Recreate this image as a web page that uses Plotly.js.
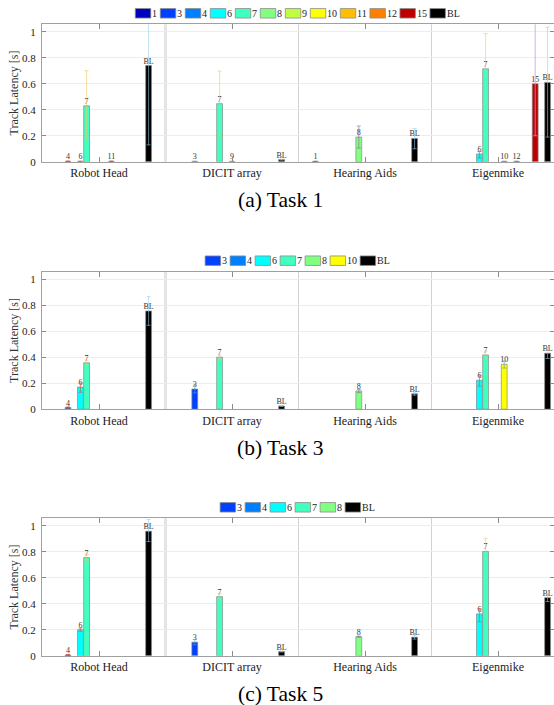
<!DOCTYPE html>
<html><head><meta charset="utf-8">
<script src="https://cdn.plot.ly/plotly-3.0.1.min.js"></script>
<style>html,body{margin:0;padding:0;background:#fff}#chart{width:554px;height:705px}</style>
</head><body><div id="chart"></div>
<script>
// ---------------- DATA ----------------
const groups = ['Robot Head', 'DICIT array', 'Hearing Aids', 'Eigenmike'];

// Task 1
const seriesT1 = ['1', '3', '4', '6', '7', '8', '9', '10', '11', '12', '15', 'BL'];
const valuesT1 = [
  [null, null, 0.003, null],
  [null, 0.003, null, null],
  [0.003, null, null, null],
  [0.003, null, null, 0.06],
  [0.43, 0.447, null, 0.715],
  [null, null, 0.19, null],
  [null, 0.003, null, null],
  [null, null, null, 0.003],
  [0.003, null, null, null],
  [null, null, null, 0.003],
  [null, null, null, 0.60],
  [0.74, 0.017, 0.18, 0.61]
];
const errUpT1 = [
  [null, null, 0.002, null],
  [null, 0.002, null, null],
  [0.003, null, null, null],
  [0.003, null, null, 0.02],
  [0.27, 0.25, null, 0.27],
  [null, null, 0.085, null],
  [null, 0.002, null, null],
  [null, null, null, 0.002],
  [0.003, null, null, null],
  [null, null, null, 0.002],
  [null, null, null, 0.60],
  [0.60, 0.004, 0.075, 0.425]
];
const errDownT1 = [
  [null, null, 0.002, null],
  [null, 0.002, null, null],
  [0.003, null, null, null],
  [0.003, null, null, 0.03],
  [0.25, 0.25, null, 0.27],
  [null, null, 0.085, null],
  [null, 0.002, null, null],
  [null, null, null, 0.002],
  [0.003, null, null, null],
  [null, null, null, 0.002],
  [null, null, null, 0.40],
  [0.61, 0.004, 0.08, 0.42]
];

// Task 3
const seriesT3 = ['3', '4', '6', '7', '8', '10', 'BL'];
const valuesT3 = [
  [null, 0.155, null, null],
  [0.013, null, null, null],
  [0.17, null, null, 0.222],
  [0.357, 0.40, null, 0.417],
  [null, null, 0.14, null],
  [null, null, null, 0.346],
  [0.755, 0.025, 0.118, 0.43]
];
const errUpT3 = [
  [null, 0.03, null, null],
  [0.004, null, null, null],
  [0.03, null, null, 0.035],
  [0.02, 0.015, null, 0.03],
  [null, null, 0.012, null],
  [null, null, null, 0.025],
  [0.11, 0.004, 0.008, 0.045]
];
const errDownT3 = [
  [null, 0.03, null, null],
  [0.004, null, null, null],
  [0.04, null, null, 0.045],
  [0.02, 0.01, null, 0.03],
  [null, null, 0.012, null],
  [null, null, null, 0.03],
  [0.11, 0.004, 0.01, 0.04]
];

// Task 5
const seriesT5 = ['3', '4', '6', '7', '8', 'BL'];
const valuesT5 = [
  [null, 0.105, null, null],
  [0.006, null, null, null],
  [0.20, null, null, 0.322],
  [0.755, 0.455, null, 0.802],
  [null, null, 0.147, null],
  [0.958, 0.033, 0.143, 0.447]
];
const errUpT5 = [
  [null, 0.02, null, null],
  [0.003, null, null, null],
  [0.012, null, null, 0.04],
  [0.025, 0.025, null, 0.10],
  [null, null, 0.004, null],
  [0.09, 0.004, 0.015, 0.03]
];
const errDownT5 = [
  [null, 0.02, null, null],
  [0.003, null, null, null],
  [0.012, null, null, 0.06],
  [0.025, 0.01, null, 0.06],
  [null, null, 0.004, null],
  [0.08, 0.004, 0.015, 0.03]
];

const captions = ['(a) Task 1', '(b) Task 3', '(c) Task 5'];
const yTitle = 'Track Latency [s]';

// ---------------- STYLE ----------------
const FONT = 'Liberation Serif, Times New Roman, serif';
const jet16 = ['#0000BF', '#0000FF', '#0040FF', '#0080FF', '#00BFFF', '#00FFFF', '#40FFBF', '#80FF80',
               '#BFFF40', '#FFFF00', '#FFBF00', '#FF8000', '#FF4000', '#FF0000', '#BF0000', '#800000'];
const errColor = {
  '1': 'rgba(150,80,170,0.6)', '3': 'rgba(80,160,220,0.6)', '4': 'rgba(220,50,50,0.75)',
  '6': 'rgba(220,90,60,0.65)', '7': 'rgba(245,195,100,0.6)', '8': 'rgba(150,90,170,0.6)',
  '9': 'rgba(200,160,60,0.6)', '10': 'rgba(80,150,210,0.6)', '11': 'rgba(200,50,50,0.7)',
  '12': 'rgba(60,130,200,0.6)', '15': 'rgba(200,150,220,0.75)', 'BL': 'rgba(140,205,240,0.6)'
};
function slotOf(name) { return name === 'BL' ? 17 : parseInt(name, 10); }
function barColor(name) { return name === 'BL' ? '#000000' : jet16[slotOf(name) - 1]; }

const W = 554, H = 705, L = 42;
const PW = W - L;
const groupPitchPx = 133, firstCenterPx = 99;
const xRange = [-(firstCenterPx - L) / groupPitchPx, (W - firstCenterPx) / groupPitchPx];
const slotPitch = 6.2 / groupPitchPx;
const barW = 0.044;
const panelTops = [24.3, 271.7, 518.3];
const panelH = 137.5;
const px2x = px => (px - L) / PW;
const py2y = py => 1 - py / H;

const panels = [
  {series: seriesT1, values: valuesT1, up: errUpT1, down: errDownT1},
  {series: seriesT3, values: valuesT3, up: errUpT3, down: errDownT3},
  {series: seriesT5, values: valuesT5, up: errUpT5, down: errDownT5}
];

const traces = [];
const layout = {
  width: W, height: H,
  margin: {l: L, r: 0, t: 0, b: 0},
  paper_bgcolor: '#fff', plot_bgcolor: '#fff',
  barmode: 'overlay',
  showlegend: false,
  font: {family: FONT, color: '#222'},
  shapes: [], annotations: []
};

const canvas = document.createElement('canvas');
const ctx = canvas.getContext('2d');
ctx.font = "10px 'Liberation Serif'";

panels.forEach((p, k) => {
  const sfx = k === 0 ? '' : String(k + 1);
  const top = panelTops[k];
  p.series.forEach((name, i) => {
    const slot = slotOf(name);
    const keep = p.values[i].map((v, j) => v == null ? -1 : j).filter(j => j >= 0);
    traces.push({
      type: 'bar',
      x: keep.map(j => groups[j]),
      y: keep.map(j => p.values[i][j]),
      xaxis: 'x' + sfx, yaxis: 'y' + sfx,
      width: barW, offset: (slot - 9) * slotPitch - barW / 2,
      marker: {color: barColor(name), line: {color: '#8a8a8a', width: 0.7}},
      text: keep.map(() => name), textposition: 'outside', textangle: 0, constraintext: 'none',
      textfont: {size: 8, family: FONT, color: '#333'},
      error_y: {type: 'data', symmetric: false,
                array: keep.map(j => p.up[i][j]), arrayminus: keep.map(j => p.down[i][j]),
                color: errColor[name], thickness: 1, width: 2},
      name: name, hoverinfo: 'skip'
    });
  });

  layout['xaxis' + sfx] = {
    domain: [0, 1], anchor: 'y' + sfx, type: 'category', categoryarray: groups,
    categoryorder: 'array',
    range: xRange, showgrid: false, zeroline: false,
    showline: true, linecolor: '#a0a0a0', linewidth: 1, mirror: 'ticks',
    ticks: 'inside', ticklen: 5, tickcolor: '#8a8a8a',
    tickfont: {size: 12, family: FONT, color: '#222'}
  };
  layout['yaxis' + sfx] = {
    domain: [py2y(top + panelH), py2y(top)], anchor: 'x' + sfx,
    range: [0, 1.057], tick0: 0, dtick: 0.2,
    showgrid: true, gridcolor: '#ececec', zeroline: false,
    showline: true, linecolor: '#a0a0a0', linewidth: 1, mirror: 'ticks',
    ticks: 'inside', ticklen: 4, tickcolor: '#8a8a8a', ticklabelstandoff: 3,
    tickfont: {size: 11, family: FONT, color: '#222'},
    title: {text: yTitle, font: {size: 12, family: FONT, color: '#333'}, standoff: 0}
  };

  // group separators
  for (let g = 1; g < groups.length; g++) {
    layout.shapes.push({
      type: 'line', layer: 'below', xref: 'x' + sfx, yref: 'y' + sfx + ' domain',
      x0: g - 0.5, x1: g - 0.5, y0: 0, y1: 1,
      line: g === 1 ? {color: '#e4e4e4', width: 3} : {color: '#d2d2d2', width: 1}
    });
  }

  // legend (boxes + labels)
  const boxW = 15.5, boxH = 9.5, gap1 = 1.5, gap2 = 3;
  const widths = p.series.map(n => ctx.measureText(n).width);
  let total = 0;
  widths.forEach((w, i) => { total += boxW + gap1 + w + (i < widths.length - 1 ? gap2 : 0); });
  let cx = 297.5 - total / 2;
  const ly = top - 11;
  p.series.forEach((name, i) => {
    layout.shapes.push({
      type: 'rect', xref: 'paper', yref: 'paper',
      x0: px2x(cx), x1: px2x(cx + boxW), y0: py2y(ly + boxH / 2), y1: py2y(ly - boxH / 2),
      fillcolor: barColor(name), line: {color: '#8c8c8c', width: 0.8}
    });
    layout.annotations.push({
      xref: 'paper', yref: 'paper', x: px2x(cx + boxW + gap1 - 1), y: py2y(ly),
      xanchor: 'left', yanchor: 'middle', showarrow: false, borderpad: 0,
      text: name, font: {size: 10, family: FONT, color: '#222'}
    });
    cx += boxW + gap1 + widths[i] + gap2;
  });

  layout.annotations.push({
    xref: 'paper', yref: 'paper', x: px2x(280), y: py2y(top + 176),
    xanchor: 'center', yanchor: 'middle', showarrow: false,
    text: captions[k], font: {size: 21.5, family: FONT, color: '#000'}
  });
});

Plotly.newPlot('chart', traces, layout, {staticPlot: true, displayModeBar: false});
</script>
</body></html>
